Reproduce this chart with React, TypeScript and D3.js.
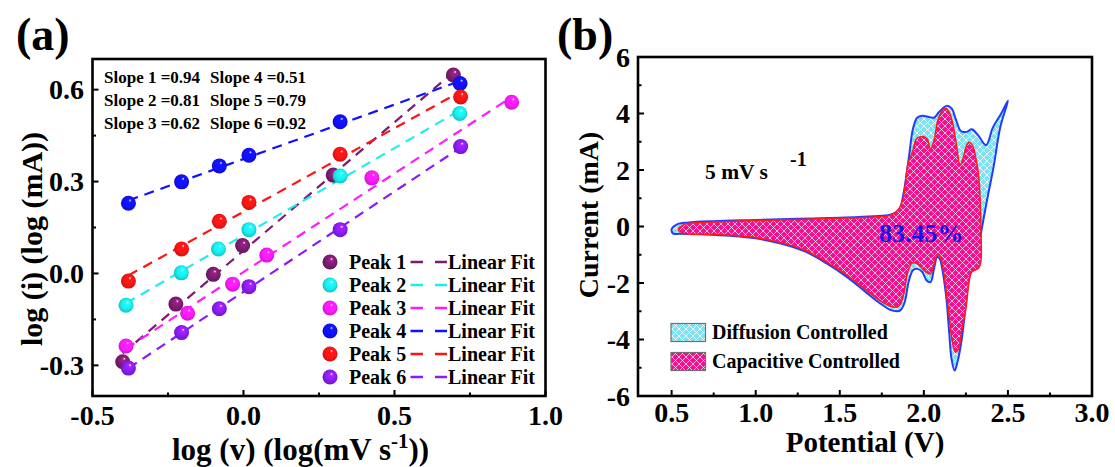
import React from 'react';
import * as d3 from 'd3';

const FONT = "'Times New Roman', 'Liberation Serif', Times, serif";

// ---------------- Panel (a) data ----------------
const peakNames = ['Peak 1', 'Peak 2', 'Peak 3', 'Peak 4', 'Peak 5', 'Peak 6'];
const peakColors = ['#7d1c70', '#19eef0', '#ff1aff', '#1010ff', '#ff1414', '#8a1cf5'];
const peak1X = [-0.40, -0.224, -0.10, -0.003, 0.297, 0.695];
const peak1Y = [-0.288, -0.100, -0.003, 0.091, 0.321, 0.648];
const peak2X = [-0.389, -0.206, -0.083, 0.018, 0.320, 0.716];
const peak2Y = [-0.104, 0.002, 0.080, 0.143, 0.318, 0.522];
const peak3X = [-0.389, -0.185, -0.036, 0.077, 0.425, 0.888];
const peak3Y = [-0.237, -0.130, -0.035, 0.060, 0.312, 0.559];
const peak4X = [-0.381, -0.205, -0.080, 0.018, 0.320, 0.717];
const peak4Y = [0.229, 0.299, 0.351, 0.386, 0.495, 0.620];
const peak5X = [-0.381, -0.205, -0.080, 0.018, 0.320, 0.719];
const peak5Y = [-0.025, 0.080, 0.170, 0.232, 0.389, 0.576];
const peak6X = [-0.381, -0.205, -0.080, 0.018, 0.320, 0.719];
const peak6Y = [-0.309, -0.193, -0.115, -0.043, 0.143, 0.414];
const slopeCol1 = ['Slope 1 =0.94', 'Slope 2 =0.81', 'Slope 3 =0.62'];
const slopeCol2 = ['Slope 4 =0.51', 'Slope 5 =0.79', 'Slope 6 =0.92'];
const xTicksA = [-0.5, 0.0, 0.5, 1.0];
const xMinorA = [-0.25, 0.25, 0.75];
const yTicksA = [-0.3, 0.0, 0.3, 0.6];
const yMinorA = [-0.15, 0.15, 0.45];

// ---------------- Panel (b) data ----------------
const totalV = [0.50, 0.53, 0.60, 0.75, 1.00, 1.25, 1.50, 1.70, 1.80, 1.85, 1.88, 1.91, 1.935, 1.96, 1.99, 2.03, 2.06, 2.09, 2.135, 2.165, 2.19, 2.22, 2.255, 2.285, 2.32, 2.37, 2.41, 2.46, 2.50,
  2.455, 2.415, 2.376, 2.35, 2.338, 2.337, 2.32, 2.28, 2.265, 2.245, 2.225, 2.20, 2.183, 2.165, 2.15, 2.135, 2.115, 2.095, 2.08, 2.06, 2.04, 2.015, 1.99, 1.96, 1.935, 1.91, 1.885, 1.86, 1.84, 1.80, 1.74, 1.66, 1.55, 1.42, 1.30, 1.15, 1.00, 0.85, 0.70, 0.55, 0.51];
const totalI = [-0.10, 0.07, 0.14, 0.19, 0.23, 0.27, 0.31, 0.36, 0.42, 0.55, 1.2, 2.4, 3.45, 3.85, 3.92, 3.88, 3.85, 4.05, 4.27, 4.18, 3.80, 3.38, 3.35, 3.44, 3.25, 2.88, 3.50, 4.00, 4.45,
  3.53, 2.12, 0.94, 0.10, -0.35, -1.0, -1.45, -1.62, -2.0, -3.0, -4.0, -4.8, -5.1, -4.7, -3.7, -2.6, -1.7, -1.15, -1.07, -1.5, -1.97, -1.9, -1.6, -1.5, -1.55, -1.95, -2.7, -2.97, -3.0, -2.95, -2.72, -2.35, -1.82, -1.30, -0.90, -0.60, -0.42, -0.33, -0.28, -0.26, -0.25];
const capV = [0.54, 0.57, 0.65, 0.80, 1.00, 1.25, 1.50, 1.70, 1.80, 1.845, 1.875, 1.905, 1.935, 1.955, 1.975, 2.00, 2.02, 2.04, 2.06, 2.085, 2.11, 2.13, 2.15, 2.17, 2.195, 2.215, 2.235, 2.25, 2.268, 2.29, 2.31, 2.325, 2.335,
  2.34, 2.34, 2.325, 2.285, 2.27, 2.25, 2.225, 2.205, 2.188, 2.17, 2.155, 2.135, 2.115, 2.095, 2.08, 2.06, 2.038, 2.01, 1.985, 1.955, 1.93, 1.905, 1.88, 1.86, 1.84, 1.80, 1.74, 1.66, 1.55, 1.42, 1.30, 1.15, 1.00, 0.85, 0.70, 0.58];
const capI = [-0.12, 0.06, 0.13, 0.17, 0.21, 0.25, 0.29, 0.34, 0.40, 0.58, 0.95, 2.2, 2.7, 3.1, 3.17, 3.18, 3.1, 2.75, 3.05, 3.8, 4.1, 4.18, 4.05, 3.7, 2.85, 2.18, 2.45, 2.8, 2.98, 2.85, 2.4, 1.85, 0.95,
  -0.4, -1.2, -1.48, -1.6, -1.9, -2.9, -3.7, -4.35, -4.45, -4.1, -3.4, -2.4, -1.5, -1.05, -1.0, -1.35, -1.68, -1.6, -1.45, -1.3, -1.3, -1.6, -2.4, -2.75, -2.85, -2.82, -2.62, -2.27, -1.76, -1.25, -0.86, -0.57, -0.40, -0.31, -0.27, -0.25];
const xTicksB = [0.5, 1.0, 1.5, 2.0, 2.5, 3.0];
const xMinorB = [0.75, 1.25, 1.75, 2.25, 2.75];
const yTicksB = [-6, -4, -2, 0, 2, 4, 6];
const yMinorB = [-5, -3, -1, 1, 3, 5];
const legendB = ['Diffusion Controlled', 'Capacitive Controlled'];

const peaksX = [peak1X, peak2X, peak3X, peak4X, peak5X, peak6X];
const peaksY = [peak1Y, peak2Y, peak3Y, peak4Y, peak5Y, peak6Y];

function fit(xs: number[], ys: number[]) {
  const mx = d3.mean(xs)!, my = d3.mean(ys)!;
  let sxy = 0, sxx = 0;
  xs.forEach((x, i) => { sxy += (x - mx) * (ys[i] - my); sxx += (x - mx) * (x - mx); });
  const b = sxy / sxx;
  return { b, a: my - b * mx };
}

export default function App() {
  // scales
  const xA = d3.scaleLinear().domain([-0.5, 1.0]).range([92.5, 545.5]);
  const yA = d3.scaleLinear().domain([-0.4, 0.7]).range([396, 59]);
  const xB = d3.scaleLinear().domain([0.3, 3.0]).range([638, 1092]);
  const yB = d3.scaleLinear().domain([-6, 6]).range([396, 57]);

  const closed = d3.line<[number, number]>()
    .x(d => xB(d[0])).y(d => yB(d[1]))
    .curve(d3.curveCatmullRomClosed.alpha(0.5));
  const totalPath = closed(totalV.map((v, i) => [v, totalI[i]]))!;
  const capPath = closed(capV.map((v, i) => [v, capI[i]]))!;

  const bold = { fontFamily: FONT, fontWeight: 700 as const, fill: '#000' };
  const majorLen = 6, minorLen = 3.5;

  return (
    <svg width={1115} height={467} style={{ position: 'absolute', left: 0, top: 0, background: '#fff' }}>
      <defs>
        {peakColors.map((c, i) => (
          <radialGradient key={i} id={`sph${i}`} cx="50%" cy="50%" r="55%" fx="62%" fy="28%">
            <stop offset="0%" stopColor="#ffffff" />
            <stop offset="18%" stopColor={d3.color(c)!.brighter(0.6).formatHex()} />
            <stop offset="60%" stopColor={c} />
            <stop offset="100%" stopColor={d3.color(c)!.darker(0.7).formatHex()} />
          </radialGradient>
        ))}
        <pattern id="hatchC" width="7" height="7" patternUnits="userSpaceOnUse">
          <rect width="7" height="7" fill="#7ee2f5" />
          <path d="M0,0 L7,7 M7,0 L0,7" stroke="#ffffff" strokeWidth="0.9" />
        </pattern>
        <pattern id="hatchM" width="7" height="7" patternUnits="userSpaceOnUse">
          <rect width="7" height="7" fill="#f5108f" />
          <path d="M0,0 L7,7 M7,0 L0,7" stroke="#ffffff" strokeWidth="0.9" strokeOpacity="0.8" />
        </pattern>
        <clipPath id="clipA"><rect x={92.5} y={59} width={453} height={337} /></clipPath>
      </defs>

      {/* ---------------- Panel (a) ---------------- */}
      <text x={16} y={50} fontSize={46} {...bold}>(a)</text>
      <g clipPath="url(#clipA)">
        {peaksX.map((xs, i) => {
          const { a, b } = fit(xs, peaksY[i]);
          const x0 = d3.min(xs)!, x1 = d3.max(xs)!;
          return (
            <line key={i} x1={xA(x0)} y1={yA(a + b * x0)} x2={xA(x1)} y2={yA(a + b * x1)}
              stroke={peakColors[i]} strokeWidth={2.2} strokeDasharray="10 7" />
          );
        })}
        {peaksX.map((xs, i) => xs.map((x, j) => (
          <circle key={`${i}-${j}`} cx={xA(x)} cy={yA(peaksY[i][j])} r={7.5} fill={`url(#sph${i})`} />
        )))}
      </g>
      {slopeCol1.map((s, i) => (
        <text key={`s1${i}`} x={104} y={82.5 + i * 23.3} fontSize={17} {...bold}>{s}</text>
      ))}
      {slopeCol2.map((s, i) => (
        <text key={`s2${i}`} x={210} y={82.5 + i * 23.3} fontSize={17} {...bold}>{s}</text>
      ))}
      {peakNames.map((n, i) => {
        const y = 262 + i * 23;
        return (
          <g key={n}>
            <circle cx={330} cy={y} r={7.5} fill={`url(#sph${i})`} />
            <text x={349} y={y + 7} fontSize={20} {...bold}>{n}</text>
            <line x1={410.5} x2={447} y1={y} y2={y} stroke={peakColors[i]} strokeWidth={2.4} strokeDasharray="12.5 12" />
            <text x={448} y={y + 7} fontSize={20} {...bold}>Linear Fit</text>
          </g>
        );
      })}
      <rect x={92.5} y={59} width={453} height={337} fill="none" stroke="#000" strokeWidth={2.6} />
      {xTicksA.map(t => (
        <g key={`xa${t}`}>
          <line x1={xA(t)} x2={xA(t)} y1={396} y2={396 - majorLen} stroke="#000" strokeWidth={2} />
          <text x={xA(t)} y={425} fontSize={28} textAnchor="middle" {...bold}>{t.toFixed(1)}</text>
        </g>
      ))}
      {xMinorA.map(t => (
        <line key={`xam${t}`} x1={xA(t)} x2={xA(t)} y1={396} y2={396 - minorLen} stroke="#000" strokeWidth={2} />
      ))}
      {yTicksA.map(t => (
        <g key={`ya${t}`}>
          <line x1={92.5} x2={92.5 + majorLen} y1={yA(t)} y2={yA(t)} stroke="#000" strokeWidth={2} />
          <text x={84} y={yA(t) + 9.5} fontSize={28} textAnchor="end" {...bold}>{t.toFixed(1)}</text>
        </g>
      ))}
      {yMinorA.map(t => (
        <line key={`yam${t}`} x1={92.5} x2={92.5 + minorLen} y1={yA(t)} y2={yA(t)} stroke="#000" strokeWidth={2} />
      ))}
      <text x={172} y={460} fontSize={31} {...bold}>
        log (v) (log(mV s<tspan fontSize={21} dy={-12}>-1</tspan><tspan dy={12}>))</tspan>
      </text>
      <text transform="translate(42,239) rotate(-90)" fontSize={30} textAnchor="middle" {...bold}>log (i) (log (mA))</text>

      {/* ---------------- Panel (b) ---------------- */}
      <text x={557} y={50} fontSize={46} {...bold}>(b)</text>
      <path d={totalPath} fill="url(#hatchC)" stroke="#1f3cff" strokeWidth={2} />
      <path d={capPath} fill="url(#hatchM)" stroke="#ff1a1a" strokeWidth={1.5} />
      <text x={879} y={242} fontSize={26} fill="#1414f0" fontFamily={FONT} fontWeight={700}>83.45%</text>
      <text x={705} y={179} fontSize={21.5} {...bold}>5 mV s</text>
      <text x={790} y={166} fontSize={20} {...bold}>-1</text>
      {legendB.map((n, i) => (
        <g key={n}>
          <rect x={671} y={323.5 + i * 29} width={34.5} height={18} fill={i === 0 ? 'url(#hatchC)' : 'url(#hatchM)'} stroke="#707070" strokeWidth={1.2} />
          <text x={712} y={338.5 + i * 29} fontSize={20} {...bold}>{n}</text>
        </g>
      ))}
      <rect x={638} y={57} width={454} height={339} fill="none" stroke="#000" strokeWidth={2.6} />
      {xTicksB.map(t => (
        <g key={`xb${t}`}>
          <line x1={xB(t)} x2={xB(t)} y1={396} y2={396 - majorLen} stroke="#000" strokeWidth={2} />
          <text x={xB(t)} y={422} fontSize={28} textAnchor="middle" {...bold}>{t.toFixed(1)}</text>
        </g>
      ))}
      {xMinorB.map(t => (
        <line key={`xbm${t}`} x1={xB(t)} x2={xB(t)} y1={396} y2={396 - minorLen} stroke="#000" strokeWidth={2} />
      ))}
      {yTicksB.map(t => (
        <g key={`yb${t}`}>
          <line x1={638} x2={638 + majorLen} y1={yB(t)} y2={yB(t)} stroke="#000" strokeWidth={2} />
          <text x={630} y={yB(t) + 9.5} fontSize={28} textAnchor="end" {...bold}>{String(t)}</text>
        </g>
      ))}
      {yMinorB.map(t => (
        <line key={`ybm${t}`} x1={638} x2={638 + minorLen} y1={yB(t)} y2={yB(t)} stroke="#000" strokeWidth={2} />
      ))}
      <text x={865} y={452} fontSize={29} textAnchor="middle" {...bold}>Potential (V)</text>
      <text transform="translate(598,215) rotate(-90)" fontSize={28} textAnchor="middle" {...bold}>Current (mA)</text>
    </svg>
  );
}
